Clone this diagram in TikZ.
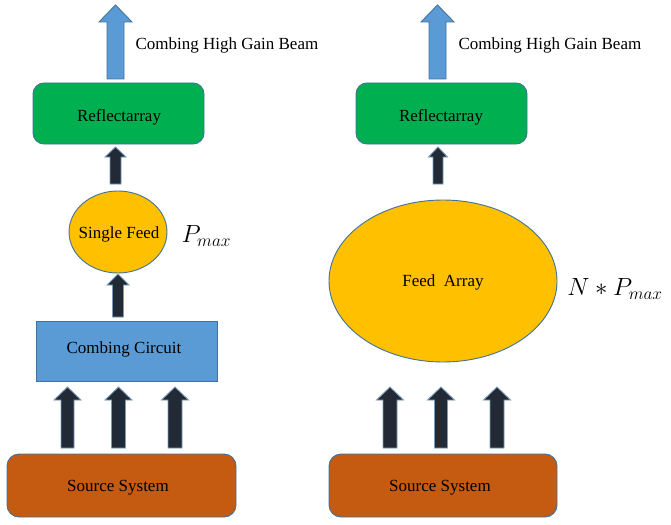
\documentclass[tikz,border=0pt]{standalone}
\usepackage{fontspec}
\setmainfont{Liberation Serif}
\usetikzlibrary{shapes.geometric}
\definecolor{edgeblue}{HTML}{41719C}
\definecolor{beamblue}{HTML}{5B9BD5}
\definecolor{reflgreen}{HTML}{00B050}
\definecolor{feedorange}{HTML}{FFC000}
\definecolor{srcbrown}{HTML}{C55A11}
\definecolor{darkarrow}{HTML}{222A35}
\newcommand\BlockArrow[7]{%
  \draw[#1] ({#2-#7},#3) -- ({#2-#7},#5) -- ({#2-#6},#5) -- (#2,#4) -- ({#2+#6},#5) -- ({#2+#7},#5) -- ({#2+#7},#3) -- cycle;}
\tikzset{
  txt/.style={font=\fontsize{17}{20}\selectfont, text=black},
  reflbox/.style={draw=edgeblue, line width=0.9pt, fill=reflgreen, rounded corners=11pt, minimum width=171pt, minimum height=61pt, inner sep=0pt},
  srcbox/.style={draw=edgeblue, line width=0.9pt, fill=srcbrown, rounded corners=12pt, minimum width=229pt, minimum height=63pt, inner sep=0pt},
  combbox/.style={draw=edgeblue, line width=0.9pt, fill=beamblue, minimum width=181pt, minimum height=60pt, inner sep=0pt},
  feedell/.style={ellipse, draw=edgeblue, line width=0.9pt, fill=feedorange, inner sep=0pt},
  beamarrow/.style={draw=edgeblue, line width=0.9pt, fill=beamblue},
  darkarr/.style={draw=edgeblue!70, line width=0.9pt, fill=darkarrow},
}
\begin{document}
\begin{tikzpicture}[x=1pt,y=-1pt]
\useasboundingbox (0,0) rectangle (671,524);
% ---------- left column ----------
\node[reflbox] (reflL) at (118.5,113.5) {};
\node[txt] (reflLt) at (119,117) {Reflectarray};
\node[feedell, minimum width=98pt, minimum height=82pt] (feedL) at (118,232) {};
\node[txt] (feedLt) at (119,234) {Single Feed};
\node[anchor=west, font=\fontsize{23}{26}\selectfont] (pmaxL) at (178,236) {$P_{max}$};
\node[combbox] (combL) at (126.5,351) {};
\node[txt] (combLt) at (124,349) {Combing Circuit};
\node[srcbox] (srcL) at (121.5,485.5) {};
\node[txt] (srcLt) at (118,488) {Source System};
\node[txt, anchor=west] (beamLt) at (132,45) {Combing High Gain Beam};
\BlockArrow{beamarrow}{115.5}{79}{5}{22}{16.5}{8.5}
\BlockArrow{darkarr}{115.5}{184}{147}{157}{10.5}{5.5}
\BlockArrow{darkarr}{118}{317}{274}{285}{11}{5.5}
\BlockArrow{darkarr}{67.5}{448}{387}{400}{13.5}{6.5}
\BlockArrow{darkarr}{118.5}{448}{387}{400}{13.5}{7}
\BlockArrow{darkarr}{175}{448}{387}{400}{13.5}{7}
% ---------- right column ----------
\node[reflbox] (reflR) at (441.5,113.5) {};
\node[txt] (reflRt) at (441,117) {Reflectarray};
\node[feedell, minimum width=228pt, minimum height=162pt] (feedR) at (443,281) {};
\node[txt] (feedRt) at (443,282) {Feed\ \ Array};
\node[font=\fontsize{23}{26}\selectfont] (pmaxR) at (615,289) {$N*P_{max}$};
\node[srcbox, minimum width=228pt] (srcR) at (443,485.5) {};
\node[txt] (srcRt) at (440,488) {Source System};
\node[txt, anchor=west] (beamRt) at (455,45) {Combing High Gain Beam};
\BlockArrow{beamarrow}{437.5}{79}{5}{22}{16.5}{8.5}
\BlockArrow{darkarr}{438}{184}{147}{157}{9.5}{5}
\BlockArrow{darkarr}{390}{448}{387}{400}{13.5}{7}
\BlockArrow{darkarr}{441}{448}{387}{400}{13.5}{6.5}
\BlockArrow{darkarr}{497}{448}{387}{400}{13.5}{7}
\end{tikzpicture}
\end{document}
